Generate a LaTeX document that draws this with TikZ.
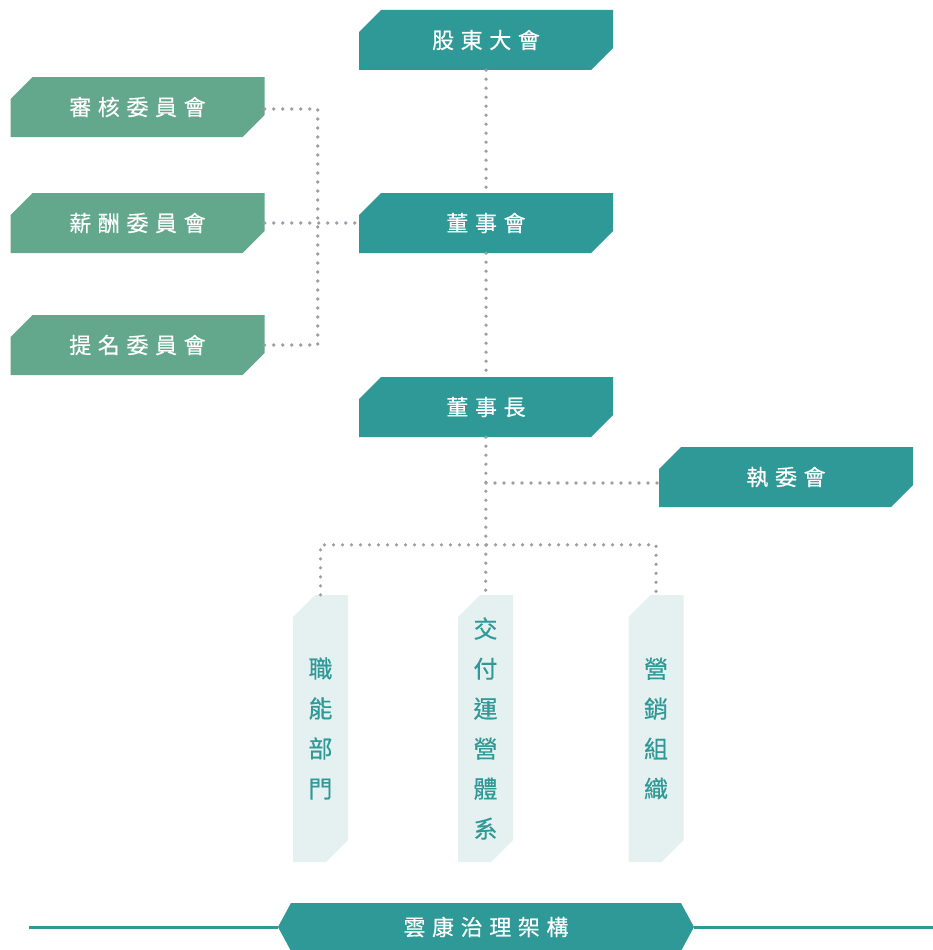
\documentclass[tikz,border=0pt]{standalone}
\usepackage{fontspec}
\newfontfamily\cjk[LetterSpace=30,FakeBold=0.4]{Noto Sans CJK TC}
\newfontfamily\cjkv[FakeBold=0.4]{Noto Sans CJK TC}
\definecolor{boxteal}{HTML}{2E9996}
\definecolor{boxgreen}{HTML}{63A78C}
\definecolor{boxpale}{HTML}{E5F0F0}
\definecolor{dotgray}{HTML}{9D9DA5}

\tikzset{
  cutbox/.style = {rectangle, inner sep = 0pt, minimum width = 254pt, minimum height = 60pt, text = white, font = \cjk\fontsize{22}{26}\selectfont,
    path picture = {\fill[#1] ([yshift=-22pt]path picture bounding box.north west) -- ([xshift=22pt]path picture bounding box.north west) -- (path picture bounding box.north east) -- ([yshift=22pt]path picture bounding box.south east) -- ([xshift=-22pt]path picture bounding box.south east) -- (path picture bounding box.south west) -- cycle;}},
  colbox/.style = {cutbox = boxpale, minimum width = 55pt, minimum height = 267pt, text = boxteal, align = center, font = \cjkv\fontsize{24}{40}\selectfont},
  banner/.style = {rectangle, inner sep = 0pt, minimum width = 416pt, minimum height = 48pt, text = white, font = \cjk\fontsize{22}{26}\selectfont,
    path picture = {\fill[boxteal] ([xshift=13pt]path picture bounding box.north west) -- ([xshift=-13pt]path picture bounding box.north east) -- (path picture bounding box.east) -- ([xshift=-13pt]path picture bounding box.south east) -- ([xshift=13pt]path picture bounding box.south west) -- (path picture bounding box.west) -- cycle;}},
  link/.style = {draw = dotgray, line width = 3.6pt, line cap = round, dash pattern = on 0pt off 9pt},
  rule/.style = {draw = boxteal, line width = 3pt}
}

\begin{document}
\begin{tikzpicture}[x = 1pt, y = -1pt]
\useasboundingbox (0,0) rectangle (933,950);

\node (shareholders) [cutbox = boxteal] at (486,40) {股東大會};
\node (board) [cutbox = boxteal] at (486,223) {董事會};
\node (chairman) [cutbox = boxteal] at (486,407) {董事長};
\node (exec) [cutbox = boxteal] at (786,477) {執委會};

\node (audit) [cutbox = boxgreen] at (137.5,107) {審核委員會};
\node (pay) [cutbox = boxgreen] at (137.5,223) {薪酬委員會};
\node (nominate) [cutbox = boxgreen] at (137.5,345) {提名委員會};

\node (func) [colbox] at (320.5,728.5) {職\\能\\部\\門};
\node (ops) [colbox] at (485.5,728.5) {交\\付\\運\\營\\體\\系};
\node (sales) [colbox] at (656,728.5) {營\\銷\\組\\織};

\node (title) [banner] at (486,927) {雲康治理架構};
\coordinate (ruleL) at (29,927);
\coordinate (ruleR) at (933,927);
\coordinate (execin) at ([yshift=-6pt]exec.west);

\draw[link] (shareholders) -- (board);
\draw[link] (board) -- (chairman);
\draw[link] (pay.east) -- (board.west);
\draw[link] ([yshift=-2pt]audit.east) -- ++(53,0) |- (nominate.east);
\draw[link] (chairman) -- (ops);
\draw[link] (chairman.south |- execin) -- (execin);
\draw[link] (func.north) -- ++(0,-50) -| (sales.north);

\draw[rule] (ruleL) -- (title.west);
\draw[rule] (title.east) -- (ruleR);

\end{tikzpicture}
\end{document}
